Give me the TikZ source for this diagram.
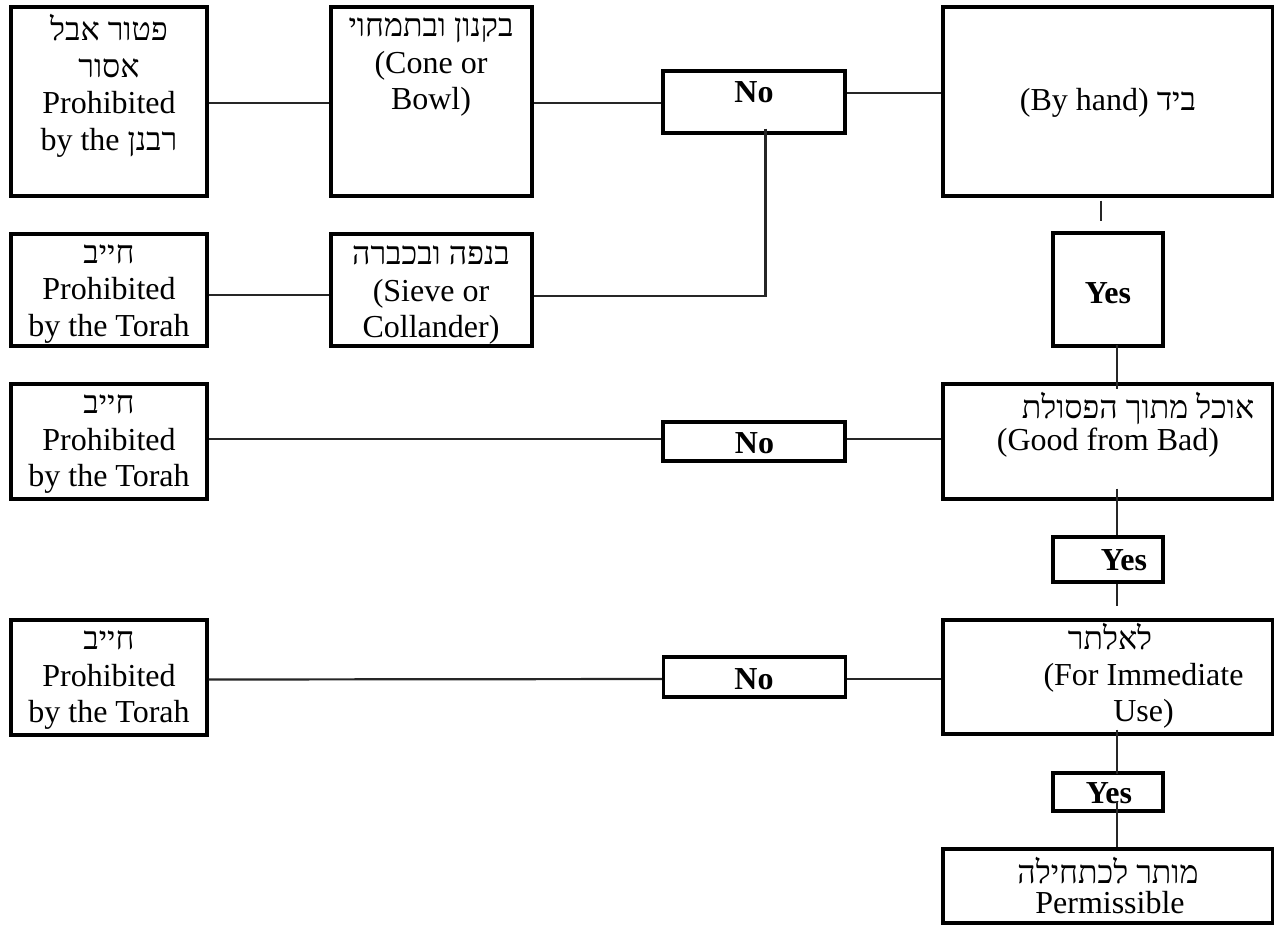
\documentclass[tikz,border=0pt]{standalone}
\usepackage{fontspec}
\setmainfont{Liberation Serif}
\newfontfamily\hebfont[Script=Hebrew]{Liberation Serif}
\TeXXeTstate=1
\newcommand{\HebT}[1]{{\hebfont\beginR #1\endR}}
\begin{document}
\begin{tikzpicture}[x=1pt,y=-1pt,
  box/.style={draw, line width=3.2pt, inner sep=0pt, minimum width=#1},
  conn/.style={line width=2.2pt, draw=black!85},
  txt/.style={inner sep=0pt, align=center, font=\fontsize{32}{36.5}\selectfont},
  bold/.style={inner sep=0pt, font=\fontsize{32}{36.5}\selectfont\bfseries}]
\useasboundingbox (0,0) rectangle (1274,924);
% boxes
\node[box=196pt, minimum height=189pt] (A) at (109,101.5) {};
\node[box=201pt, minimum height=189pt] (B) at (431.5,101.5) {};
\node[box=196pt, minimum height=112pt] (C) at (109,290) {};
\node[box=201pt, minimum height=112pt] (D) at (431.5,290) {};
\node[box=182pt, minimum height=62pt] (N1) at (754,102) {};
\node[box=330pt, minimum height=189pt] (E) at (1108,101.5) {};
\node[box=110pt, minimum height=113pt] (Y1) at (1108,289.5) {};
\node[box=330pt, minimum height=115pt] (F) at (1108,441.5) {};
\node[box=196pt, minimum height=115pt] (G) at (109,441.5) {};
\node[box=182pt, minimum height=39pt] (N2) at (754,441.5) {};
\node[box=110pt, minimum height=45pt] (Y2) at (1108,559.5) {};
\node[box=330pt, minimum height=114pt] (H) at (1108,677) {};
\node[box=196pt, minimum height=115pt] (I) at (109,677.5) {};
\node[box=182pt, minimum height=40pt] (N3) at (754.5,677) {};
\node[box=110pt, minimum height=38pt] (Y3) at (1108,792) {};
\node[box=330pt, minimum height=74pt] (P) at (1108,886) {};
% texts
\node[txt] (At) at (109,86) {\HebT{פטור אבל}\\\HebT{אסור}\\Prohibited\\by the \HebT{רבנן}};
\node[txt] (Bt) at (431,67) {\HebT{בקנון ובתמחוי}\\(Cone or\\Bowl)};
\node[txt] (Ct) at (109,294) {\HebT{חייב}\\Prohibited\\by the Torah};
\node[txt] (Dt) at (431,295) {\HebT{בנפה ובכברה}\\(Sieve or\\Collander)};
\node[txt] (Gt) at (109,444.5) {\HebT{חייב}\\Prohibited\\by the Torah};
\node[txt] (It) at (109,680.5) {\HebT{חייב}\\Prohibited\\by the Torah};
\node[txt] (Et) at (1108,103) {(By hand) \HebT{ביד}};
\node[txt] (Ft1) at (1138,408) {\HebT{אוכל מתוך הפסולת}};
\node[txt] (Ft2) at (1108,443) {(Good from Bad)};
\node[txt] (Ht1) at (1110,637) {\HebT{לאלתר}};
\node[txt] (Ht2) at (1143.5,696) {(For Immediate\\Use)};
\node[txt] (Pt1) at (1108,871) {\HebT{מותר לכתחילה}};
\node[txt] (Pt2) at (1110,903) {Permissible};
\node[bold] (N1t) at (754,92) {No};
\node[bold] (N2t) at (754.5,443) {No};
\node[bold] (N3t) at (754,679) {No};
\node[bold] (Y1t) at (1108,293) {Yes};
\node[bold] (Y2t) at (1124,560) {Yes};
\node[bold] (Y3t) at (1109,793) {Yes};
% connectors
\draw[conn] ([yshift=-1.5pt]A.east) -- ([yshift=-1.5pt]B.west);
\draw[conn] ([yshift=-1.5pt]B.east) -- ([yshift=-1.5pt]B.east -| N1.west);
\draw[conn] ([yshift=9pt]N1.east) -- ([yshift=9pt]N1.east -| E.west);
\draw[conn] ([xshift=11.5pt,yshift=6pt]N1.south) -- ([xshift=11.5pt,yshift=-6pt]N1.south |- D.east) -- ([yshift=-6pt]D.east);
\draw[conn] ([yshift=-5pt]C.east) -- ([yshift=-5pt]D.west);
\draw[conn] ([xshift=-7pt,yshift=-3pt]E.south) -- ([xshift=-7pt,yshift=10pt]Y1.north);
\draw[conn] ([xshift=9pt,yshift=3pt]Y1.south) -- ([xshift=9pt,yshift=-7pt]F.north);
\draw[conn] ([yshift=2.5pt]G.west -| G.east) -- ([yshift=2.5pt]N2.west);
\draw[conn] ([yshift=2.5pt]N2.east) -- ([yshift=2.5pt]F.west);
\draw[conn] ([xshift=9pt,yshift=12pt]F.south) -- ([xshift=9pt]Y2.north);
\draw[conn] ([xshift=9pt]Y2.south) -- ([xshift=9pt,yshift=12pt]H.north);
\draw[conn] ([yshift=-2pt]I.east) -- ([yshift=-2pt]N3.west);
\draw[conn] ([yshift=-2pt]N3.east) -- ([yshift=-2pt]H.west);
\draw[conn] ([xshift=9pt,yshift=6pt]H.south) -- ([xshift=9pt,yshift=-3pt]Y3.north);
\draw[conn] ([xshift=9pt,yshift=11pt]Y3.south) -- ([xshift=9pt]P.north);
\end{tikzpicture}
\end{document}
